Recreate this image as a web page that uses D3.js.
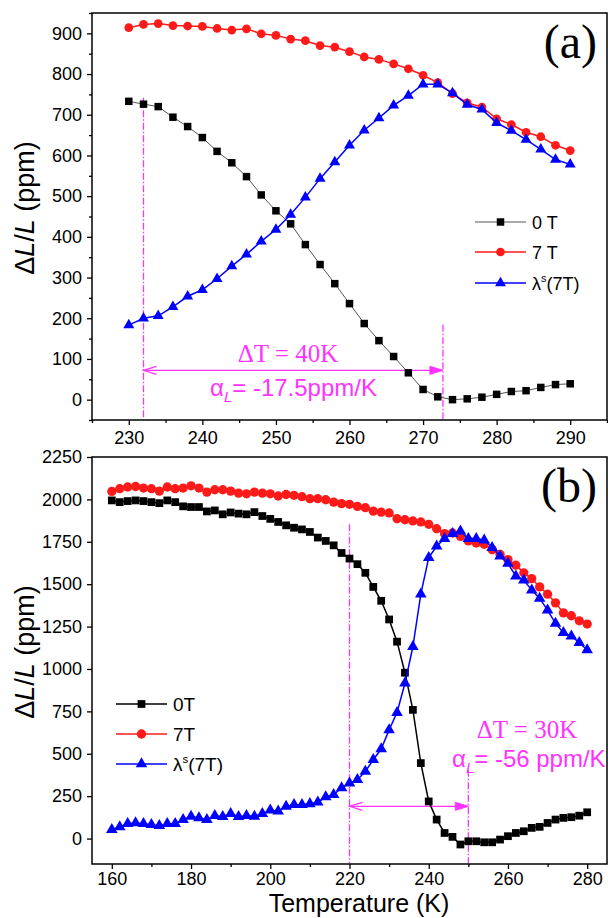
<!DOCTYPE html>
<html><head><meta charset="utf-8">
<script src="https://cdn.jsdelivr.net/npm/d3@7"></script>
<style>body{margin:0;background:#fff} svg{display:block}</style>
</head><body>
<svg id="c" width="608" height="918"></svg>
<script>
// ---------- DATA ----------
const tempsA = [230,232,234,236,238,240,242,244,246,248,250,252,254,256,258,260,262,264,266,268,270,272,274,276,278,280,282,284,286,288,290];
const a0T  = [733,726,720,694,671,644,610,582,548,503,464,432,381,332,285,236,187,145,106,66,25,7,0,2,6,13,20,22,30,37,39];
const a7T  = [914,922,924,919,918,917,912,908,911,899,895,886,882,870,866,855,842,836,825,813,797,779,752,729,719,690,676,657,646,625,612];
const aLam = [183,200,206,228,254,270,297,328,357,389,418,455,497,543,584,625,662,692,723,747,775,775,753,725,713,680,661,639,615,590,578];

const tempsB = [160,162,164,166,168,170,172,174,176,178,180,182,184,186,188,190,192,194,196,198,200,202,204,206,208,
                210,212,214,216,218,220,222,224,226,228,230,232,234,236,238,240,242,244,246,248,250,252,254,256,258,260,
                262,264,266,268,270,272,274,276,278,280];
const b0T  = [1994,1984,1990,1994,1990,1984,1978,1994,1984,1959,1955,1955,1929,1935,1912,1923,1916,1912,1925,1902,1885,1867,1847,1833,1823,
              1808,1775,1755,1729,1684,1651,1618,1567,1484,1402,1292,1161,978,759,445,219,112,33,10,-35,-16,-16,-22,-22,-6,14,
              33,43,63,69,92,112,122,126,135,155];
const b7T  = [2047,2063,2073,2076,2067,2063,2049,2073,2063,2067,2080,2067,2043,2057,2057,2049,2037,2033,2043,2037,2033,2020,2029,2024,2016,
              2004,2004,1998,1984,1975,1971,1959,1951,1931,1925,1920,1886,1880,1873,1867,1853,1827,1798,1802,1782,1755,1743,1735,1704,1676,1645,
              1612,1567,1533,1484,1441,1390,1331,1314,1284,1265];
const bLam = [53,69,88,92,88,82,76,88,88,112,131,122,112,135,129,147,129,135,131,147,167,161,190,200,200,
              205,214,245,259,298,327,347,396,465,528,641,743,916,1131,1441,1657,1724,1769,1798,1812,1769,1769,1759,1716,1665,1622,
              1547,1524,1465,1416,1347,1269,1214,1194,1155,1112];

const xTicksA = [230,240,250,260,270,280,290];
const xMinorA = [225,235,245,255,265,275,285,295];
const yTicksA = [0,100,200,300,400,500,600,700,800,900];
const yMinorA = [-50,50,150,250,350,450,550,650,750,850,950];
const xTicksB = [160,180,200,220,240,260,280];
const xMinorB = [170,190,210,230,250,270];
const yTicksB = [0,250,500,750,1000,1250,1500,1750,2000,2250];

const legendA = ["0 T","7 T","λ"];
const legendB = ["0T","7T","λ"];

// ---------- DRAW ----------
const svg = d3.select('#c');
const SANS = "'Liberation Sans', Arial, sans-serif";
const SERIF = "'Liberation Serif', 'Times New Roman', serif";
const MAG = "#ff33ff";
const L = 92, R = 607;

function sym(type, size) { return d3.symbol().type(type).size(size)(); }

function panel(cfg) {
  const x = d3.scaleLinear().domain(cfg.xDom).range([L, R]);
  const y = d3.scaleLinear().domain(cfg.yDom).range([cfg.bottom, cfg.top]);
  const g = svg.append('g');

  const ax = g.append('g').attr('transform', `translate(0,${cfg.bottom})`)
    .call(d3.axisBottom(x).tickValues(cfg.xTicks).tickSize(5).tickPadding(cfg.xPad).tickFormat(d3.format('d')));
  const axm = g.append('g').attr('transform', `translate(0,${cfg.bottom})`)
    .call(d3.axisBottom(x).tickValues(cfg.xMinor).tickSize(3).tickFormat(''));
  const ay = g.append('g').attr('transform', `translate(${L},0)`)
    .call(d3.axisLeft(y).tickValues(cfg.yTicks).tickSize(5).tickPadding(5).tickFormat(d3.format('d')));
  const aym = g.append('g').attr('transform', `translate(${L},0)`)
    .call(d3.axisLeft(y).tickValues(cfg.yMinor).tickSize(3).tickFormat(''));
  [ax, axm, ay, aym].forEach(a => {
    a.select('.domain').remove();
    a.selectAll('line').attr('stroke', '#000').attr('stroke-width', 1.3);
    a.selectAll('text').attr('font-family', SANS).attr('font-size', 18).attr('fill', '#000');
  });

  // frame
  g.append('rect').attr('x', L).attr('y', cfg.top).attr('width', R - L).attr('height', cfg.bottom - cfg.top)
    .attr('fill', 'none').attr('stroke', '#000').attr('stroke-width', 1.5);

  // annotations (behind data)
  const ann = g.append('g');
  cfg.vlines.forEach(v => {
    ann.append('line').attr('x1', x(v.t)).attr('x2', x(v.t)).attr('y1', y(v.from)).attr('y2', cfg.bottom - 1)
      .attr('stroke', MAG).attr('stroke-width', 1.3).attr('stroke-dasharray', '7,2,1.5,2');
  });
  const ay0 = y(cfg.arrow.v), ax1 = x(cfg.arrow.t1), ax2 = x(cfg.arrow.t2);
  ann.append('line').attr('x1', ax1).attr('x2', ax2).attr('y1', ay0).attr('y2', ay0).attr('stroke', MAG).attr('stroke-width', 1.2);
  ann.append('path').attr('d', `M${ax1 + 13},${ay0 - 4} L${ax1},${ay0} L${ax1 + 13},${ay0 + 4}`)
    .attr('fill', 'none').attr('stroke', MAG).attr('stroke-width', 1.2);
  ann.append('path').attr('d', `M${ax2 - 13},${ay0 - 4} L${ax2},${ay0} L${ax2 - 13},${ay0 + 4} Z`)
    .attr('fill', MAG).attr('stroke', MAG).attr('stroke-width', 1);

  ann.append('text').attr('x', cfg.dtText.x).attr('y', cfg.dtText.y).attr('text-anchor', 'middle')
    .attr('font-family', SERIF).attr('font-size', 25).attr('fill', MAG).text(cfg.dtText.s);
  const at = ann.append('text').attr('x', cfg.alText.x).attr('y', cfg.alText.y)
    .attr('font-family', SANS).attr('font-size', 24).attr('fill', MAG);
  at.append('tspan').text('α');
  at.append('tspan').attr('font-style', 'italic').attr('font-size', 15).attr('dy', 6).text('L');
  at.append('tspan').attr('dy', -6).text(cfg.alText.s);

  // series
  cfg.series.forEach(s => {
    const pts = s.temps.map((t, i) => [x(t), y(s.vals[i])]);
    g.append('path').attr('d', d3.line()(pts)).attr('fill', 'none')
      .attr('stroke', s.lineColor).attr('stroke-width', s.lw);
    g.append('g').selectAll('path').data(pts).join('path')
      .attr('transform', d => `translate(${d[0]},${d[1]})`)
      .attr('d', sym(s.type, s.size)).attr('fill', s.color);
  });

  // legend
  const lg = g.append('g');
  cfg.series.forEach((s, i) => {
    const ry = cfg.legend.rows[i];
    lg.append('line').attr('x1', cfg.legend.x1).attr('x2', cfg.legend.x2).attr('y1', ry).attr('y2', ry)
      .attr('stroke', s.lineColor).attr('stroke-width', s.lw);
    lg.append('path').attr('transform', `translate(${(cfg.legend.x1 + cfg.legend.x2) / 2},${ry})`)
      .attr('d', sym(s.type, s.size)).attr('fill', s.color);
    const t = lg.append('text').attr('x', cfg.legend.tx).attr('y', ry + 6.5)
      .attr('font-family', SANS).attr('font-size', cfg.legend.fs).attr('fill', '#000');
    if (s.label === 'λ') {
      t.append('tspan').text('λ');
      t.append('tspan').attr('font-size', cfg.legend.fs * 0.6).attr('dy', -8).text('s');
      t.append('tspan').attr('dy', 8).text('(7T)');
    } else t.text(s.label);
  });

  // panel label
  g.append('text').attr('x', 597).attr('y', cfg.top + 45).attr('text-anchor', 'end')
    .attr('font-family', SERIF).attr('font-size', 48).attr('fill', '#000').text(cfg.tag);

  // y title
  const yt = g.append('text').attr('transform', `translate(34,${cfg.ytY}) rotate(-90)`).attr('text-anchor', 'middle')
    .attr('font-family', SANS).attr('font-size', 27).attr('fill', '#000');
  yt.append('tspan').text('Δ');
  yt.append('tspan').attr('font-style', 'italic').text('L');
  yt.append('tspan').text('/');
  yt.append('tspan').attr('font-style', 'italic').text('L');
  yt.append('tspan').text(' (ppm)');
}

panel({
  top: 13, bottom: 420, xDom: [225, 295], yDom: [-50, 950], xPad: 6,
  xTicks: xTicksA, xMinor: xMinorA, yTicks: yTicksA, yMinor: yMinorA,
  series: [
    {temps: tempsA, vals: a0T, type: d3.symbolSquare, size: 56, color: '#000', lineColor: '#555', lw: 1, label: legendA[0]},
    {temps: tempsA, vals: a7T, type: d3.symbolCircle, size: 60, color: '#ff1a1a', lineColor: '#ff1a1a', lw: 1.5, label: legendA[1]},
    {temps: tempsA, vals: aLam, type: d3.symbolTriangle, size: 52, color: '#0000ff', lineColor: '#0000ff', lw: 1.5, label: legendA[2]}
  ],
  vlines: [{t: 232, from: 742}, {t: 272.7, from: 184}],
  arrow: {t1: 232, t2: 272.7, v: 72},
  dtText: {x: 288, y: 362, s: 'ΔT = 40K'},
  alText: {x: 210, y: 396, s: '= -17.5ppm/K'},
  legend: {x1: 475, x2: 526, tx: 532, rows: [222, 252, 283], fs: 18},
  tag: '(a)', ytY: 208
});

panel({
  top: 457, bottom: 864, xDom: [155, 285], yDom: [-150, 2250], xPad: 3,
  xTicks: xTicksB, xMinor: xMinorB, yTicks: yTicksB, yMinor: [],
  series: [
    {temps: tempsB, vals: b0T, type: d3.symbolSquare, size: 60, color: '#000', lineColor: '#000', lw: 1.5, label: legendB[0]},
    {temps: tempsB, vals: b7T, type: d3.symbolCircle, size: 68, color: '#ff1a1a', lineColor: '#ff1a1a', lw: 1.5, label: legendB[1]},
    {temps: tempsB, vals: bLam, type: d3.symbolTriangle, size: 58, color: '#0000ff', lineColor: '#0000ff', lw: 1.5, label: legendB[2]}
  ],
  vlines: [{t: 220, from: 1853}, {t: 250, from: 406}],
  arrow: {t1: 220, t2: 250, v: 190},
  dtText: {x: 527, y: 738, s: 'ΔT = 30K'},
  alText: {x: 452, y: 767, s: '= -56 ppm/K'},
  legend: {x1: 116, x2: 167, tx: 173, rows: [704, 734, 764], fs: 19},
  tag: '(b)', ytY: 652
});

svg.append('text').attr('x', 359).attr('y', 912).attr('text-anchor', 'middle')
  .attr('font-family', SANS).attr('font-size', 25).attr('fill', '#000').text('Temperature (K)');
</script>
</body></html>
